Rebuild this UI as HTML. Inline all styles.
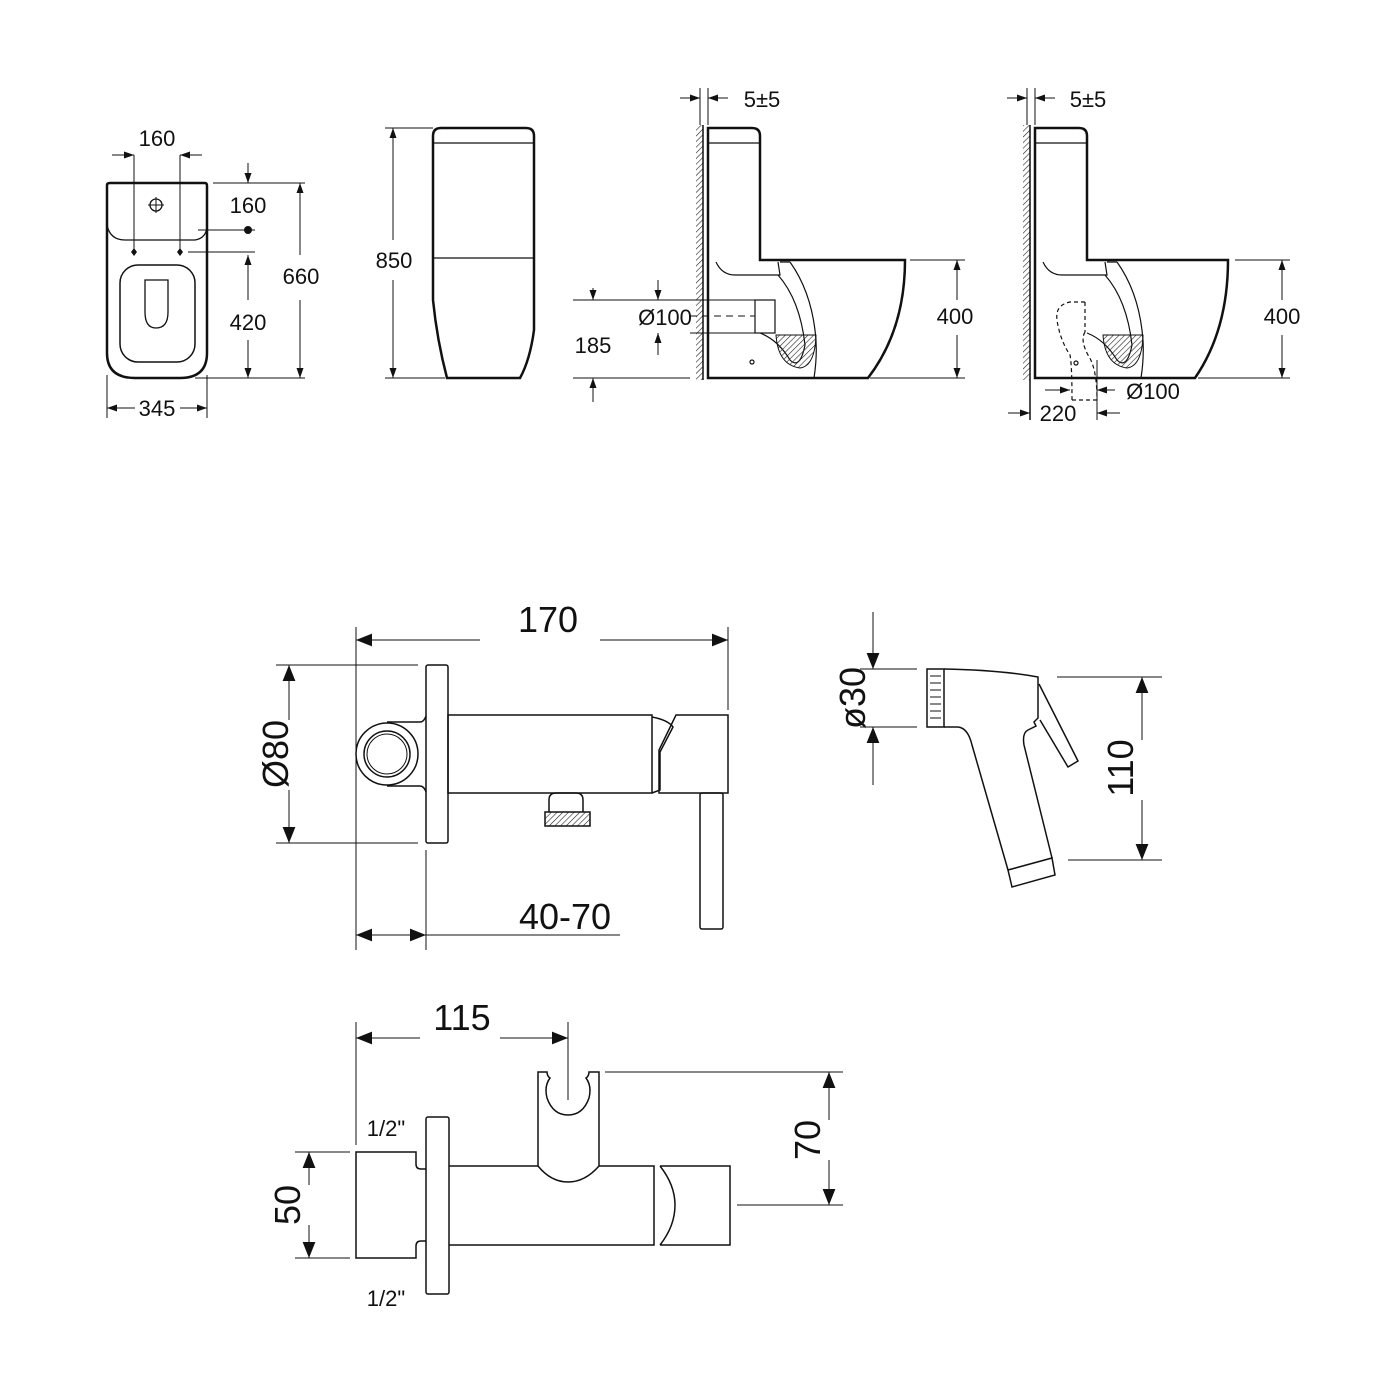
<!DOCTYPE html>
<html><head><meta charset="utf-8"><style>html,body{margin:0;padding:0;background:#fff}svg{display:block}</style></head>
<body>
<svg width="1400" height="1400" viewBox="0 0 1400 1400" xmlns="http://www.w3.org/2000/svg" font-family="Liberation Sans, Arial, sans-serif">
<defs>
<marker id="a" viewBox="0 0 10 10" refX="10" refY="5" markerWidth="10" markerHeight="10" markerUnits="userSpaceOnUse" orient="auto"><path d="M0,1.5 L10,5 L0,8.5z" fill="#111"/></marker>
<marker id="b" viewBox="0 0 10 10" refX="10" refY="5" markerWidth="22" markerHeight="16" markerUnits="userSpaceOnUse" orient="auto"><path d="M0,1 L10,5 L0,9z" fill="#111"/></marker>
<pattern id="h" width="4" height="4" patternUnits="userSpaceOnUse" patternTransform="rotate(45)"><line x1="0" y1="0" x2="0" y2="4" stroke="#222" stroke-width="1.2"/></pattern>
</defs>
<g fill="none" stroke="#111">
<!-- plan view -->
<path d="M107,185 Q107,183 110,183 L205,183 Q207,183 207,186 L207,353 Q207,378 180,378 L135,378 Q107,378 107,353 Z" stroke-width="2.5"/>
<path d="M107,225 Q110,240 125,240 L195,240 Q207,238 207,225" stroke-width="1.3"/>
<rect x="120" y="265" width="75" height="97" rx="18" stroke-width="1.5"/>
<path d="M145,280 L168,280 L168,312 Q168,328 156,328 Q145,328 145,312 Z" stroke-width="1.3"/>
<circle cx="156" cy="205" r="6" stroke-width="1.3"/><path d="M148,205 H164 M156,197 V213" stroke-width="1"/>
<g stroke-width="1"><path d="M134,155 V252 M180,155 V252"/>
<path d="M112,155 H134" marker-end="url(#a)"/><path d="M202,155 H180" marker-end="url(#a)"/>
<path d="M213,183 H305 M198,230 H255 M188,252 H255 M195,378 H305"/>
<path d="M248,163 V183" marker-end="url(#a)"/>
<path d="M248,300 V255" marker-end="url(#a)"/><path d="M248,340 V378" marker-end="url(#a)"/>
<path d="M300,255 V183" marker-end="url(#a)"/><path d="M300,300 V378" marker-end="url(#a)"/>
<path d="M107,375 V418 M207,375 V418"/>
<path d="M135,408 H107" marker-end="url(#a)"/><path d="M180,408 H207" marker-end="url(#a)"/></g>
<circle cx="248" cy="230" r="3.5" fill="#111"/>
<path d="M134,248 l3,4 l-3,4 l-3,-4z M180,248 l3,4 l-3,4 l-3,-4z" fill="#111" stroke="none"/>
<!-- front view -->
<path d="M433,136 Q433,128 441,128 L526,128 Q534,128 534,136 L534,258 L534,330 Q530,360 520,378 L447,378 Q437,340 433,300 Z" stroke-width="2.5"/>
<path d="M433,143 H534 M433,258 H534" stroke-width="1.3"/>
<g stroke-width="1"><path d="M385,128 H433 M385,378 H445"/>
<path d="M393,240 V128" marker-end="url(#a)"/><path d="M393,280 V378" marker-end="url(#a)"/>
<path d="M573,300 H690 M573,378 H690"/>
<path d="M593,288 V300" marker-end="url(#a)"/><path d="M593,402 V378" marker-end="url(#a)"/>
<path d="M658,280 V300" marker-end="url(#a)"/><path d="M658,355 V333" marker-end="url(#a)"/>
<path d="M690,300 H755 M690,333 H755"/>
<path d="M690,316 H755" stroke-dasharray="7,5"/></g>
<!-- side view 1 -->
<rect x="696" y="125" width="7" height="255" fill="url(#h)" stroke="none"/>
<path d="M703,125 V380" stroke-width="1.5"/>
<g stroke-width="1"><path d="M700,88 V125 M708,88 V125"/>
<path d="M680,98 H700" marker-end="url(#a)"/><path d="M728,98 H708" marker-end="url(#a)"/>
<path d="M910,260 H965 M870,378 H965"/>
<path d="M957,300 V260" marker-end="url(#a)"/><path d="M957,335 V378" marker-end="url(#a)"/></g>
<path d="M708,378 L708,128 L752,128 Q760,128 760,136 L760,260 L905,260 Q905,330 868,378 Z" stroke-width="2.5"/>
<path d="M708,143 H760" stroke-width="1.2"/>
<path d="M716,262 Q722,275 735,275 L780,275 L778,262 M778,275 Q800,300 805,345 Q800,370 790,360 Q778,340 760,333 M790,262 Q810,290 815,330 Q818,352 814,378 M780,262 H790" stroke-width="1.2"/>
<rect x="755" y="300" width="20" height="33" fill="#fff" stroke-width="1.2"/>
<path d="M776,335 Q778,365 800,368 Q815,366 816,335 Z" fill="url(#h)" stroke-width="1"/>
<circle cx="752" cy="362" r="2" stroke-width="1.2"/>
<!-- side view 2 -->
<rect x="1023" y="125" width="7" height="255" fill="url(#h)" stroke="none"/>
<path d="M1030,125 V420" stroke-width="1.5"/>
<g stroke-width="1"><path d="M1027,88 V125 M1035,88 V125"/>
<path d="M1007,98 H1027" marker-end="url(#a)"/><path d="M1055,98 H1035" marker-end="url(#a)"/>
<path d="M1235,260 H1290 M1198,378 H1290"/>
<path d="M1282,300 V260" marker-end="url(#a)"/><path d="M1282,335 V378" marker-end="url(#a)"/>
<path d="M1045,390 H1070" marker-end="url(#a)"/><path d="M1115,390 H1097" marker-end="url(#a)"/>
<path d="M1008,413 H1030" marker-end="url(#a)"/><path d="M1120,413 H1097" marker-end="url(#a)"/>
<path d="M1097,360 V420"/></g>
<path d="M1035,378 L1035,128 L1079,128 Q1087,128 1087,136 L1087,260 L1228,260 Q1228,330 1195,378 Z" stroke-width="2.5"/>
<path d="M1035,143 H1087" stroke-width="1.2"/>
<path d="M1043,262 Q1049,275 1062,275 L1107,275 L1105,262 M1105,275 Q1127,300 1132,345 Q1127,370 1117,360 Q1105,340 1087,333 M1117,262 Q1137,290 1142,330 Q1145,352 1141,378 M1107,262 H1117" stroke-width="1.2"/>
<path d="M1103,335 Q1105,365 1127,368 Q1142,366 1143,335 Z" fill="url(#h)" stroke-width="1"/>
<path d="M1085,302 H1070 Q1055,305 1057,320 Q1060,340 1070,355 Q1072,365 1072,400 M1085,332 Q1080,340 1088,355 Q1097,368 1097,400 M1072,400 H1097 M1085,302 V332" stroke-width="1.2" stroke-dasharray="4,3"/>
<circle cx="1076" cy="363" r="2" stroke-width="1.2"/>
<!-- faucet side -->
<g stroke-width="1"><path d="M356,627 V950 M728,627 V710 M276,665 H418 M276,843 H418 M426,850 V950 M426,935 H620"/>
<path d="M480,640 H356" marker-end="url(#b)"/><path d="M600,640 H728" marker-end="url(#b)"/>
<path d="M289,720 V665" marker-end="url(#b)"/><path d="M289,790 V843" marker-end="url(#b)"/>
<path d="M391,935 H356" marker-end="url(#b)"/><path d="M391,935 H426" marker-end="url(#b)"/></g>
<g stroke-width="1.5">
<rect x="426" y="665" width="22" height="178" rx="2"/>
<rect x="448" y="715" width="204" height="78"/>
<path d="M652,717 Q668,720 673,727 L660,752 L660,790 L652,793 M676,715 H728 V793 H659 V750 Z"/>
<rect x="700" y="793" width="23" height="136" rx="2"/>
<path d="M387,722 H420 Q424,722 426,716 M387,786 H420 Q424,786 426,792"/>
<circle cx="387" cy="754" r="31" fill="#fff"/><circle cx="387" cy="754" r="23"/><circle cx="387" cy="754" r="20" stroke-width="1"/>
<path d="M549,812 V800 Q549,793 556,793 L576,793 Q583,793 583,800 V812"/>
<rect x="545" y="812" width="45" height="14" fill="url(#h)"/>
</g>
<!-- hand shower -->
<g stroke-width="1"><path d="M860,669 H917 M860,727 H917 M1057,677 H1162 M1068,860 H1162"/>
<path d="M873,612 V669" marker-end="url(#b)"/><path d="M873,785 V727" marker-end="url(#b)"/>
<path d="M1142,740 V677" marker-end="url(#b)"/><path d="M1142,800 V860" marker-end="url(#b)"/></g>
<g stroke-width="1.5">
<rect x="927" y="669" width="17" height="58"/>
<path d="M930,676 H941 M930,683 H941 M930,690 H941 M930,697 H941 M930,704 H941 M930,711 H941 M930,718 H941" stroke-width="1"/>
<path d="M944,669 Q1000,670 1038,677 L1038,718 L1034,722 L1036,726 L1028,730 Q1022,733 1024,745 L1052,858"/>
<path d="M944,727 L958,727 Q968,728 972,745 L1008,870"/>
<path d="M1008,870 L1052,858 L1055,875 L1012,887 Z"/>
<path d="M1039,684 L1078,761 L1068,767 L1040,720"/>
</g>
<!-- bottom view -->
<g stroke-width="1"><path d="M356,1022 V1145 M568,1022 V1100 M605,1072 H843 M737,1205 H843 M295,1152 H350 M295,1258 H350"/>
<path d="M420,1038 H356" marker-end="url(#b)"/><path d="M500,1038 H568" marker-end="url(#b)"/>
<path d="M829,1120 V1072" marker-end="url(#b)"/><path d="M829,1160 V1205" marker-end="url(#b)"/>
<path d="M309,1185 V1152" marker-end="url(#b)"/><path d="M309,1225 V1258" marker-end="url(#b)"/></g>
<g stroke-width="1.5">
<path d="M426,1169 H421 Q416,1169 416,1164 V1152 H356 V1258 H416 V1246 Q416,1241 421,1241 H426"/>
<rect x="426" y="1117" width="23" height="177" rx="2"/>
<path d="M449,1166 H538 M449,1245 H654 V1166 H599"/>
<path d="M538,1166 V1072 H547 Q547,1076 550,1078 Q544,1086 547,1098 Q553,1115 568,1115 Q583,1115 589,1098 Q592,1086 586,1078 Q589,1076 589,1072 H599 V1166 Q585,1182 568,1182 Q551,1182 538,1166"/>
<path d="M660,1166 H730 V1245 H660 M660,1166 Q675,1185 675,1205 Q675,1226 660,1245"/>
</g>
</g>
<g fill="#111" text-anchor="middle">
<g font-size="22"><text x="157" y="146">160</text><text x="248" y="213">160</text><text x="248" y="330">420</text><text x="301" y="284">660</text><text x="157" y="416">345</text>
<text x="394" y="268">850</text><text x="593" y="353">185</text><text x="665" y="325">Ø100</text>
<text x="762" y="107">5±5</text><text x="955" y="324">400</text>
<text x="1088" y="107">5±5</text><text x="1282" y="324">400</text><text x="1153" y="399">Ø100</text><text x="1058" y="421">220</text></g>
<g font-size="36"><text x="548" y="632">170</text><text x="565" y="929">40-70</text><text x="462" y="1030">115</text>
<text transform="translate(288,754) rotate(-90)">Ø80</text>
<text transform="translate(865,698) rotate(-90)">ø30</text>
<text transform="translate(1133,768) rotate(-90)">110</text>
<text transform="translate(820,1140) rotate(-90)">70</text>
<text transform="translate(300,1205) rotate(-90)">50</text></g>
<g font-size="22"><text x="386" y="1136">1/2"</text><text x="386" y="1306">1/2"</text></g>
</g>
</svg>
</body></html>
